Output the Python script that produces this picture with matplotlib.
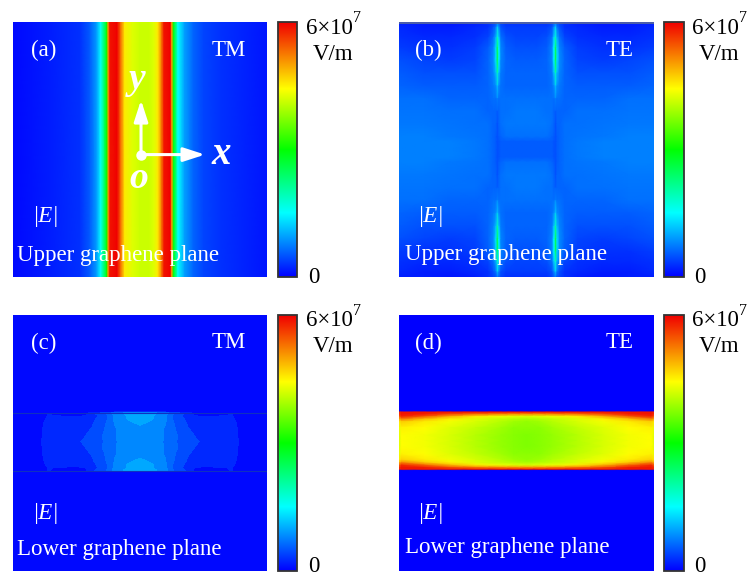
import numpy as np
import matplotlib
matplotlib.use("Agg")
import matplotlib.pyplot as plt
from matplotlib.colors import LinearSegmentedColormap

W, H = 747, 577

# field strength as a fraction of the 6e7 V/m scale, read off the colour scale
# panel (a): profile across x, the same along all of y
a_x = [0, .146, .264, .303, .33, .345, .369, .375, .382, .41, .425, .44, .47, .5,
       .535, .555, .57, .585, .595, .62, .625, .632, .65, .675, .71, .75, .82, 1]
a_vals = [.01, .03, .05, .09, .16, .25, .5, .85, .98, 1.0, .88, .76, .71, .69,
          .69, .71, .76, .88, .98, 1.0, .85, .5, .25, .16, .10, .07, .05, .02]

# panel (b): one quarter of the field, mirrored in x and y
b_x = [0, .1, .2, .3, .35, .37, .38, .386, .392, .40, .42, .46, .5]
b_y = [0, .02, .06, .1, .15, .2, .25, .3, .35, .4, .45, .47, .5]
b_vals = [
    [.03, .03, .02, .03, .05, .07, .08, .10, .09, .07, .05, .05, .05],
    [.04, .03, .03, .04, .05, .08, .11, .20, .13, .08, .06, .06, .06],
    [.05, .04, .04, .05, .07, .11, .17, .30, .20, .11, .08, .07, .07],
    [.06, .05, .05, .06, .09, .13, .21, .42, .24, .13, .09, .08, .08],
    [.08, .07, .06, .07, .10, .14, .22, .44, .24, .13, .10, .09, .09],
    [.09, .08, .08, .08, .10, .13, .18, .32, .19, .12, .10, .10, .10],
    [.10, .09, .09, .09, .10, .12, .14, .20, .14, .11, .10, .10, .10],
    [.11, .11, .10, .10, .10, .11, .11, .13, .11, .11, .11, .11, .11],
    [.115, .115, .11, .11, .10, .10, .10, .09, .10, .11, .11, .12, .12],
    [.12, .12, .115, .11, .11, .10, .10, .08, .10, .11, .12, .12, .12],
    [.125, .125, .12, .115, .11, .10, .09, .08, .09, .10, .11, .11, .11],
    [.125, .125, .125, .12, .11, .10, .09, .08, .085, .09, .09, .09, .09],
    [.125, .125, .125, .12, .11, .10, .09, .08, .085, .09, .09, .09, .09],
]

# panel (c): one quarter, mirrored about the middle of the band, drawn as filled contours
c_x = [0, .10, .14, .21, .25, .285, .31, .335, .36, .38, .40, .42, .447, .475, .5]
c_y = [0, .378, .384, .392, .405, .42, .44, .47, .495]
c_vals = [
    [0, 0, 0, 0, 0, 0, 0, 0, 0, 0, 0, 0, 0, 0, 0],
    [0, 0, 0, 0, 0, 0, 0, 0, 0, 0, 0, 0, 0, 0, 0],
    [0, .005, .021, .012, .01, .012, .05, .07, .085, .10, .135, .14, .16, .17, .175],
    [0, .005, .021, .015, .012, .018, .045, .06, .08, .095, .13, .135, .15, .165, .17],
    [0, .005, .026, .03, .03, .04, .05, .065, .082, .095, .125, .13, .15, .16, .165],
    [0, .005, .032, .04, .045, .05, .055, .07, .085, .10, .122, .125, .14, .15, .155],
    [0, .005, .038, .047, .05, .055, .06, .08, .088, .105, .118, .125, .13, .14, .145],
    [0, .005, .045, .05, .053, .059, .07, .083, .093, .105, .117, .125, .13, .135, .14],
    [0, .005, .051, .053, .055, .065, .075, .082, .092, .105, .115, .125, .13, .13, .13],
]
c_levels = [0, .02, .06, .09, .12, .15, .18]

# panel (d): one quarter, mirrored about the middle of the band
d_x = [0, .01, .1, .2, .3, .4, .45, .5]
d_y = [0, .376, .38, .388, .397, .407, .417, .44, .47, .492]
d_vals = [
    [0, 0, 0, 0, 0, 0, 0, 0],
    [0, 0, 0, 0, 0, 0, 0, 0],
    [.95, .98, .98, .98, .98, .98, .98, .98],
    [.95, .98, .97, .92, .88, .86, .85, .85],
    [.90, .96, .90, .82, .76, .72, .71, .70],
    [.82, .87, .80, .75, .71, .68, .67, .66],
    [.76, .79, .76, .73, .70, .67, .65, .64],
    [.72, .75, .74, .71, .68, .65, .63, .63],
    [.71, .74, .73, .70, .67, .64, .625, .62],
    [.71, .74, .73, .70, .67, .64, .625, .62],
]

panel_labels = ["(a)", "(b)", "(c)", "(d)"]
modes = ["TM", "TE", "TM", "TE"]
planes = ["Upper graphene plane", "Upper graphene plane",
          "Lower graphene plane", "Lower graphene plane"]

rainbow = LinearSegmentedColormap.from_list(
    "rainbow_field",
    [(0, "#0000ff"), (.25, "#00ffff"), (.5, "#00ff00"), (.74, "#ffff00"), (1, "#f00000")],
)

plt.rcParams["font.family"] = ["Liberation Serif", "DejaVu Serif"]


def mirror(pos, centre):
    pos = np.array(pos)
    full = np.r_[pos, 2 * centre - pos[-2::-1]]
    full[-1] = 1
    return full


def mirror_rows(vals):
    vals = np.array(vals)
    return np.vstack([vals, vals[-2::-1]])


def mirror_cols(vals):
    vals = np.array(vals)
    return np.hstack([vals, vals[:, -2::-1]])


def px_axes(x0, y0, x1, y1):
    return fig.add_axes([x0 / W, 1 - y1 / H, (x1 - x0) / W, (y1 - y0) / H])


def px_text(x, y, s, **kw):
    kw.setdefault("ha", "center")
    kw.setdefault("va", "center")
    fig.text(x / W, 1 - y / H, s, **kw)


fig = plt.figure(figsize=(W / 100, H / 100), dpi=100)

fields = [
    (np.array(a_x), np.array([0, 1]), np.vstack([a_vals, a_vals])),
    (mirror(b_x, .5), mirror(b_y, .5), mirror_cols(mirror_rows(b_vals))),
    (mirror(c_x, .5), mirror(c_y, .495), mirror_cols(mirror_rows(c_vals))),
    (mirror(d_x, .5), mirror(d_y, .492), mirror_cols(mirror_rows(d_vals))),
]
boxes = [(13, 22, 267, 277), (399, 22, 654, 277), (13, 315, 267, 571), (399, 315, 654, 571)]
bars = [(278, 22, 297, 277), (664, 22, 684, 277), (278, 315, 297, 571), (664, 315, 684, 571)]
label_x = [31, 415, 31, 415]
mode_x = [229, 620, 229, 620]
mode_y = [50, 50, 343, 343]
field_x = [45, 430, 45, 430]
field_y = [217, 217, 514, 514]
plane_x = [17, 405, 17, 405]
plane_y = [256, 254, 549, 548]
zero_base = [283, 283, 572, 572]
font = 16.5

for i in range(4):
    ax = px_axes(*boxes[i])
    xs, ys, zs = fields[i]
    ax.set_facecolor("#0000ff")
    if i == 2:
        ax.contourf(xs, ys, zs, levels=c_levels, cmap=rainbow, vmin=0, vmax=1)
    else:
        ax.pcolormesh(xs, ys, zs, cmap=rainbow, vmin=0, vmax=1, shading="gouraud")
    ax.set_xlim(0, 1)
    ax.set_ylim(1, 0)
    ax.set_xticks([])
    ax.set_yticks([])
    for s in ax.spines.values():
        s.set_visible(False)

    px_text(label_x[i], mode_y[i], panel_labels[i], color="white", fontsize=font, ha="left")
    px_text(mode_x[i], mode_y[i], modes[i], color="white", fontsize=font)
    px_text(field_x[i], field_y[i], "|E|", color="white", fontsize=font, style="italic")
    px_text(plane_x[i], plane_y[i], planes[i], color="white", fontsize=font, ha="left")

    # thin lines along the edges of the structure
    if i == 1:
        ax.axhline(.002, color="#5a6a9a", lw=1.2)
    if i == 2:
        ax.axhline(.382, color="#1030c0", lw=.8)
        ax.axhline(.608, color="#1030c0", lw=.8)

    if i == 0:
        # coordinate axes drawn on the first panel
        arrow = dict(arrowstyle="-|>,head_length=1.3,head_width=.42", color="white", lw=2.2,
                     mutation_scale=10, shrinkA=0, shrinkB=0)
        ax.annotate("", xy=(.756, .52), xytext=(.504, .52), arrowprops=arrow)
        ax.annotate("", xy=(.504, .306), xytext=(.504, .52), arrowprops=arrow)
        ax.plot([.504], [.52], "o", color="white", ms=6.5)
        px_text(221, 155, "x", color="white", fontsize=28, weight="bold", style="italic")
        px_text(137, 80, "y", color="white", fontsize=27, weight="bold", style="italic")
        px_text(139, 178, "o", color="white", fontsize=27, weight="bold", style="italic")

    cax = px_axes(*bars[i])
    sm = plt.cm.ScalarMappable(cmap=rainbow, norm=plt.Normalize(0, 1))
    cb = fig.colorbar(sm, cax=cax)
    cb.set_ticks([])
    cb.outline.set_edgecolor("#333333")
    cb.outline.set_linewidth(1.3)

    bx = bars[i][0]
    by = boxes[i][1]
    px_text(bx + 28, by + 6, "6×10", fontsize=font, ha="left")
    px_text(bx + 79, by - 4, "7", fontsize=11.5)
    px_text(bx + 55.5, by + 32, "V/m", fontsize=font)
    px_text(bx + 35.5, zero_base[i], "0", fontsize=font, va="baseline")

fig.savefig("out.png", dpi=100)
